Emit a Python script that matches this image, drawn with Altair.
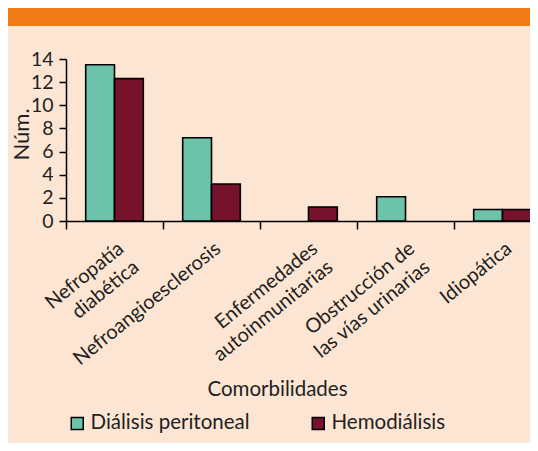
import altair as alt
import pandas as pd

categories = ["Nefropatía\ndiabética", "Nefroangioesclerosis", "Enfermedades\nautoinmunitarias",
              "Obstrucción de\nlas vías urinarias", "Idiopática"]
series = ["Diálisis peritoneal", "Hemodiálisis"]
dialisis_peritoneal = [13.5, 7.2, 0, 2.1, 1.0]
hemodialisis = [12.3, 3.2, 1.2, 0, 1.0]
y_ticks = [0, 2, 4, 6, 8, 10, 12, 14]
colors = ["#6DC3AA", "#76122B"]

rows = []
for c, a, b in zip(categories, dialisis_peritoneal, hemodialisis):
    rows.append({"cat": c, "serie": series[0], "val": a})
    rows.append({"cat": c, "serie": series[1], "val": b})
df = pd.DataFrame(rows)

FONT = "Lato"
TXT = "#231F20"

base = alt.Chart(df)

bars = base.mark_bar(stroke="black", strokeWidth=1.6).encode(
    x=alt.X("cat:N", sort=categories,
            scale=alt.Scale(domain=categories, range=[0, 485], paddingInner=0, paddingOuter=0),
            axis=alt.Axis(
                title="Comorbilidades", titleFont=FONT, titleFontSize=20.5, titleFontWeight="normal",
                titleColor=TXT, titleX=211, titleY=168, titleAnchor="middle", titleBaseline="middle",
                titleAlign="center",
                labelExpr="split(datum.label, '\\n')",
                labelAngle=-39, labelAlign="right", labelBaseline="top",
                labelFont=FONT, labelFontSize=20, labelColor=TXT, labelLineHeight=24,
                labelPadding=9,
                labelOverlap=False, labelBound=False, labelLimit=400,
                tickBand="extent", tickSize=8, tickColor="black", tickWidth=1.5,
                domainColor="black", domainWidth=1.5)),
    xOffset=alt.XOffset("serie:N", sort=series,
                        scale=alt.Scale(domain=series, paddingInner=0, paddingOuter=0.684)),
    y=alt.Y("val:Q", scale=alt.Scale(domain=[0, 14], nice=False),
            axis=alt.Axis(values=y_ticks, title="Núm.", titleFont=FONT, titleFontSize=22,
                          titleFontWeight="normal", titleColor=TXT, titleAngle=-90,
                          titleX=-45, titleY=75, titleAlign="center", titleBaseline="middle",
                          labelFont=FONT, labelFontSize=19.5, labelColor=TXT, labelPadding=6,
                          tickSize=7, tickColor="black", tickWidth=1.5,
                          domainColor="black", domainWidth=1.5, grid=False)),
    color=alt.Color("serie:N", sort=series,
                    scale=alt.Scale(domain=series, range=colors),
                    legend=alt.Legend(title=None, orient="none", direction="horizontal",
                                      legendX=1, legendY=354, symbolType="square",
                                      symbolSize=144, symbolStrokeColor="black",
                                      symbolStrokeWidth=1.5, symbolOpacity=1,
                                      labelFont=FONT, labelFontSize=20.5, labelColor=TXT,
                                      labelOffset=3, columnPadding=58, padding=0,
                                      labelLimit=400)),
).transform_filter("datum.val > 0")

band = base.mark_rect(color="#EF7A16").encode(
    x=alt.value(-58), x2=alt.value(464), y=alt.value(-51), y2=alt.value(-33))

chart = alt.layer(bars, band).properties(
    width=464, height=162,
    background="#FDE5D4",
    autosize=alt.AutoSizeParams(type="none"),
    padding={"left": 58, "top": 51, "right": 0, "bottom": 222},
).configure_view(stroke=None)

chart.save("out.html", embed_options={"renderer": "svg", "actions": False})
